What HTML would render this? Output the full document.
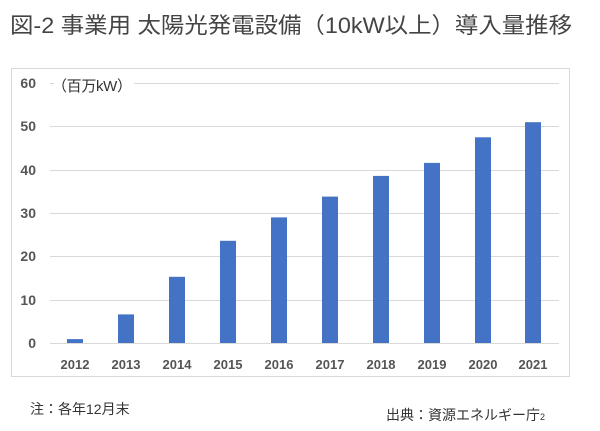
<!DOCTYPE html>
<html><head><meta charset="utf-8"><style>
body{margin:0;width:600px;height:431px;background:#fff;overflow:hidden;font-family:"Liberation Sans","Noto Sans CJK JP",sans-serif;}
</style></head><body>
<svg width="600" height="431" xmlns="http://www.w3.org/2000/svg" style="position:absolute;left:0;top:0">
<text x="10" y="33" font-size="22" fill="#444" textLength="562" lengthAdjust="spacingAndGlyphs" font-family="Liberation Sans,Noto Sans CJK JP,sans-serif">図-2 事業用 太陽光発電設備（10kW以上）導入量推移</text>
<rect x="11.5" y="68.5" width="558" height="308" fill="#fff" stroke="#d9d9d9"/>
<g stroke="#d9d9d9" stroke-width="1">
<line x1="50" x2="559" y1="83.5" y2="83.5"/>
<line x1="50" x2="559" y1="126.5" y2="126.5"/>
<line x1="50" x2="559" y1="170.5" y2="170.5"/>
<line x1="50" x2="559" y1="213.5" y2="213.5"/>
<line x1="50" x2="559" y1="256.5" y2="256.5"/>
<line x1="50" x2="559" y1="300.5" y2="300.5"/>
<line x1="50" x2="559" y1="343.5" y2="343.5"/>
</g>
<g font-size="14" font-weight="bold" fill="#555" text-anchor="end">
<text x="36" y="88">60</text><text x="36" y="131">50</text><text x="36" y="175">40</text>
<text x="36" y="218">30</text><text x="36" y="261">20</text><text x="36" y="305">10</text><text x="36" y="348">0</text>
</g>
<rect x="54" y="76" width="80" height="18" fill="#fff"/>
<text x="52" y="91" font-size="15" fill="#333" textLength="80">（百万kW）</text>
<g fill="#4472c4">
<rect x="67" y="339.1" width="16" height="3.9"/>
<rect x="118" y="314.4" width="16" height="28.6"/>
<rect x="169" y="276.8" width="16" height="66.2"/>
<rect x="220" y="240.8" width="16" height="102.2"/>
<rect x="271" y="217.4" width="16" height="125.6"/>
<rect x="322" y="196.6" width="16" height="146.4"/>
<rect x="373" y="175.9" width="16" height="167.1"/>
<rect x="424" y="162.9" width="16" height="180.1"/>
<rect x="475" y="137.3" width="16" height="205.7"/>
<rect x="525" y="122.2" width="16" height="220.8"/>
</g>
<g font-size="13" font-weight="bold" fill="#555" text-anchor="middle">
<text x="75" y="369">2012</text><text x="126" y="369">2013</text><text x="177" y="369">2014</text>
<text x="228" y="369">2015</text><text x="279" y="369">2016</text><text x="330" y="369">2017</text>
<text x="381" y="369">2018</text><text x="432" y="369">2019</text><text x="483" y="369">2020</text><text x="533" y="369">2021</text>
</g>
<text x="30" y="414" font-size="14" fill="#333">注：各年12月末</text>
<text x="386" y="420" font-size="14" fill="#333">出典：資源エネルギー庁<tspan font-size="9">2</tspan></text>
</svg>
</body></html>
